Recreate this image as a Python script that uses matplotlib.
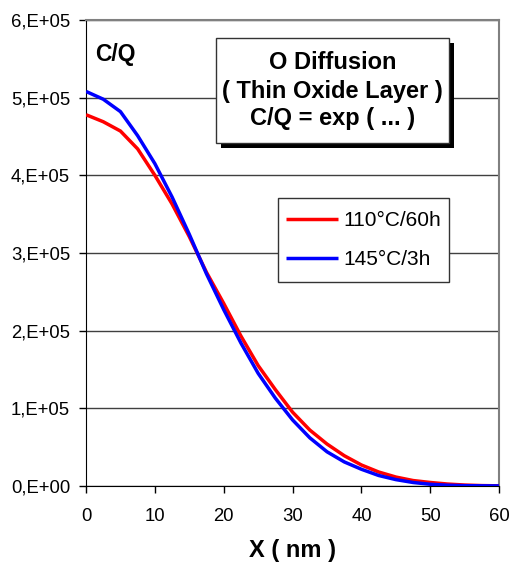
import matplotlib
matplotlib.use("Agg")
import matplotlib.pyplot as plt
from matplotlib.patches import Rectangle

plt.rcParams['font.family'] = ['Liberation Sans', 'DejaVu Sans']

# Depth in nm
x_nm = [0, 2.5, 5, 7.5, 10, 12.5, 15, 17.5, 20, 22.5, 25, 27.5, 30,
        32.5, 35, 37.5, 40, 42.5, 45, 47.5, 50, 52.5, 55, 57.5, 60]
# C/Q profiles (units of 1e5)
cq_110 = [4.78, 4.69, 4.57, 4.34, 4.00, 3.63, 3.21, 2.75, 2.35, 1.93, 1.55,
          1.24, 0.95, 0.72, 0.54, 0.39, 0.27, 0.18, 0.115, 0.07, 0.045,
          0.025, 0.012, 0.005, 0.002]
cq_145 = [5.08, 4.98, 4.82, 4.51, 4.15, 3.72, 3.24, 2.73, 2.27, 1.84, 1.45,
          1.13, 0.85, 0.62, 0.44, 0.31, 0.215, 0.135, 0.082, 0.045, 0.022,
          0.010, 0.004, 0.002, 0.001]
series_labels = ['110°C/60h', '145°C/3h']

y_ticks = [0, 1e5, 2e5, 3e5, 4e5, 5e5, 6e5]
y_tick_labels = ['0,E+00', '1,E+05', '2,E+05', '3,E+05', '4,E+05', '5,E+05', '6,E+05']
x_ticks = [0, 10, 20, 30, 40, 50, 60]

box_lines = ['O Diffusion', '( Thin Oxide Layer )', 'C/Q = exp ( ... )']


def main():
    fig = plt.figure(figsize=(5.12, 5.63), dpi=100)
    ax = fig.add_axes([0.168, 0.1368, 0.807, 0.8277])

    # the two profiles
    ax.plot(x_nm, [v * 1e5 for v in cq_110], color='#ff0000', lw=2.5,
            label=series_labels[0], zorder=3, solid_capstyle='butt')
    ax.plot(x_nm, [v * 1e5 for v in cq_145], color='#0000ff', lw=2.5,
            label=series_labels[1], zorder=3, solid_capstyle='butt')

    ax.set_xlim(0, 60)
    ax.set_ylim(0, 6e5)
    ax.set_xticks(x_ticks)
    ax.set_yticks(y_ticks)
    ax.set_yticklabels(y_tick_labels)
    ax.tick_params(axis='both', direction='out', length=5, width=1,
                   labelsize=13.3, color='black')
    ax.tick_params(axis='y', pad=6.5)
    ax.tick_params(axis='x', pad=10.5)
    ax.yaxis.grid(True, color='#404040', lw=1)
    ax.set_axisbelow(True)

    # excel-like frame
    ax.spines['left'].set_color('black')
    ax.spines['bottom'].set_color('black')
    ax.spines['top'].set_color('#808080')
    ax.spines['right'].set_color('#808080')
    for s in ['top', 'right']:
        ax.spines[s].set_linewidth(1.5)

    ax.set_xlabel('X ( nm )', fontsize=17, fontweight='bold')
    ax.xaxis.set_label_coords(0.5, -0.113)

    ax.text(0.022, 0.927, 'C/Q', transform=ax.transAxes, fontsize=16.5,
            fontweight='bold', va='center', ha='left')

    # text box with a hard shadow
    bx, by, bw, bh = 0.3148, 0.7367, 0.5649, 0.224
    ax.add_patch(Rectangle((bx + 0.012, by - 0.011), bw, bh, transform=ax.transAxes,
                           facecolor='black', edgecolor='none', zorder=4))
    ax.add_patch(Rectangle((bx, by), bw, bh, transform=ax.transAxes,
                           facecolor='white', edgecolor='#333333', lw=1, zorder=5))
    line_y = [0.9142 - 0.006, 0.8519 - 0.006, 0.7925 - 0.004]
    for txt, yy in zip(box_lines, line_y):
        ax.text(bx + bw / 2, yy, txt, transform=ax.transAxes, fontsize=17,
                fontweight='bold', ha='center', va='center', zorder=6)

    # legend frame drawn by hand (excel pads are uneven), entries on top
    ax.add_patch(Rectangle((0.4656, 0.4384), 0.414, 0.1803, transform=ax.transAxes,
                           facecolor='white', edgecolor='#333333', lw=1, zorder=5))
    leg = ax.legend(loc='upper left', bbox_to_anchor=(0.4845, 0.590),
                    borderaxespad=0, fontsize=15, frameon=False,
                    handlelength=2.5, handletextpad=0.25, labelspacing=0.95,
                    borderpad=0)
    leg.set_zorder(6)

    fig.savefig('out.png', dpi=100)


if __name__ == "__main__":
    main()
